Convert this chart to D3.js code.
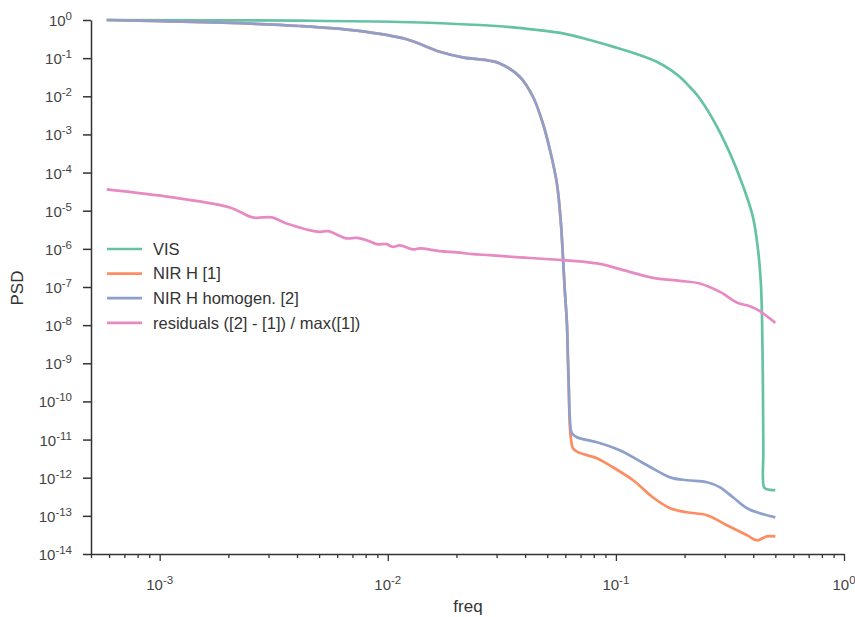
<!DOCTYPE html>
<html><head><meta charset="utf-8">
<script src="https://cdn.jsdelivr.net/npm/d3@7"></script>
<style>body{margin:0;background:#fff}svg{display:block;font-family:"Liberation Sans",Arial,Helvetica,sans-serif}</style>
</head><body><svg id="c" width="855" height="617"></svg>
<script>
// ---- data ----
const seriesNames = ["VIS", "NIR H [1]", "NIR H homogen. [2]", "residuals ([2] - [1]) / max([1])"];
const seriesColors = ["#66c2a5", "#fc8d62", "#8da0cb", "#e78ac3"];

const freqVIS = [5.86e-4, 4.11e-3, 0.0113, 0.0253, 0.0353, 0.0586, 0.0769, 0.097, 0.127, 0.151, 0.173, 0.191, 0.211, 0.227, 0.266, 0.316, 0.361, 0.399, 0.420, 0.432, 0.437, 0.441, 0.443, 0.446, 0.459, 0.5];
const psdVIS  = [1.0, 0.96, 0.887, 0.739, 0.644, 0.448, 0.299, 0.2, 0.121, 0.0805, 0.0503, 0.032, 0.0175, 0.0108, 0.00253, 3.24e-4, 4.42e-5, 6.8e-6, 9.25e-7, 1.26e-7, 1.62e-8, 3.0e-10, 5.25e-12, 5.6e-13, 5.0e-13, 4.7e-13];

const freqNIR = [5.86e-4, 1.89e-3, 4.11e-3, 7.31e-3, 0.0121, 0.0169, 0.0213, 0.0280, 0.0310, 0.0379, 0.0433, 0.0478, 0.0514, 0.0551, 0.0574, 0.0597, 0.0610, 0.0616, 0.0622, 0.0628, 0.0635, 0.0648, 0.0681, 0.0826, 0.097, 0.119, 0.145, 0.173, 0.205, 0.251, 0.307, 0.376, 0.415, 0.459, 0.5];
const psdNIR  = [1.0, 0.849, 0.696, 0.524, 0.312, 0.147, 0.105, 0.0855, 0.0728, 0.0326, 0.00973, 0.00199, 3.89e-4, 5.3e-5, 4.73e-6, 8.26e-8, 1.12e-8, 1.44e-9, 1.97e-10, 2.38e-11, 1.08e-11, 5.92e-12, 4.68e-12, 3.24e-12, 1.88e-12, 8.57e-13, 3.07e-13, 1.58e-13, 1.24e-13, 1.04e-13, 5.66e-14, 3.09e-14, 2.29e-14, 2.91e-14, 2.91e-14];

const freqHom = [5.86e-4, 1.89e-3, 4.11e-3, 7.31e-3, 0.0121, 0.0169, 0.0213, 0.0280, 0.0310, 0.0379, 0.0433, 0.0478, 0.0514, 0.0551, 0.0574, 0.0586, 0.0597, 0.0610, 0.0616, 0.0622, 0.0628, 0.0641, 0.0675, 0.0826, 0.104, 0.137, 0.173, 0.205, 0.251, 0.286, 0.326, 0.376, 0.428, 0.5];
const psdHom  = [1.0, 0.849, 0.696, 0.524, 0.312, 0.147, 0.105, 0.0855, 0.0728, 0.0326, 0.00973, 0.00199, 3.89e-4, 5.3e-5, 4.73e-6, 6.07e-7, 8.26e-8, 1.12e-8, 1.44e-9, 1.97e-10, 3.85e-11, 1.47e-11, 1.15e-11, 8.5e-12, 5.25e-12, 2.12e-12, 1.02e-12, 8.57e-13, 7.6e-13, 5.6e-13, 3.08e-13, 1.58e-13, 1.17e-13, 9.1e-14];

const freqRes = [5.86e-4, 1.14e-3, 2.03e-3, 2.56e-3, 3.10e-3, 3.60e-3, 5.03e-3, 5.46e-3, 6.61e-3, 7.31e-3, 8.09e-3, 8.95e-3, 9.90e-3, 0.0105, 0.0113, 0.0129, 0.0138, 0.0169, 0.0201, 0.0236, 0.0280, 0.0353, 0.0586, 0.0826, 0.115, 0.145, 0.191, 0.233, 0.286, 0.340, 0.387, 0.428, 0.5];
const psdRes  = [3.62e-5, 2.23e-5, 1.22e-5, 6.67e-6, 6.67e-6, 4.64e-6, 2.79e-6, 2.92e-6, 1.88e-6, 1.95e-6, 1.69e-6, 1.33e-6, 1.33e-6, 1.13e-6, 1.23e-6, 9.66e-7, 1.03e-6, 8.71e-7, 8.05e-7, 7.27e-7, 6.84e-7, 6.18e-7, 5.06e-7, 4.15e-7, 2.50e-7, 1.74e-7, 1.45e-7, 1.24e-7, 7.45e-8, 3.88e-8, 3.14e-8, 2.32e-8, 1.15e-8];

const xMajorTicks = [1e-3, 1e-2, 1e-1, 1];
const xTickExp = ["-3", "-2", "-1", "0"];
const yMajorTicks = [1, 1e-1, 1e-2, 1e-3, 1e-4, 1e-5, 1e-6, 1e-7, 1e-8, 1e-9, 1e-10, 1e-11, 1e-12, 1e-13, 1e-14];
const yTickExp = ["0","-1","-2","-3","-4","-5","-6","-7","-8","-9","-10","-11","-12","-13","-14"];
const xLabel = "freq", yLabel = "PSD";

// ---- drawing ----
const svg = d3.select("#c");
const x = d3.scaleLog().domain([5e-4, 1]).range([91, 844]);
const y = d3.scaleLog().domain([1e-14, 1]).range([554, 20]);
const axisColor = "#333", textColor = "#444";

const series = [
  {f: freqVIS, p: psdVIS},
  {f: freqNIR, p: psdNIR},
  {f: freqHom, p: psdHom},
  {f: freqRes, p: psdRes}
];

const line = d3.line().x(d => x(d[0])).y(d => y(d[1])).curve(d3.curveCatmullRom.alpha(0.5));
series.forEach((s, i) => {
  const pts = s.f.map((f, k) => [f, s.p[k]]);
  svg.append("path").attr("d", line(pts))
    .attr("fill", "none").attr("stroke", seriesColors[i]).attr("stroke-width", 2.7)
    .attr("stroke-linejoin", "round").attr("stroke-linecap", "butt");
});

// minor x ticks
const minorX = [];
for (let e = -4; e < 0; e++) for (let m = 2; m <= 9; m++) { const v = m * Math.pow(10, e); if (v >= 5e-4 && v < 1) minorX.push(v); }

const gx = svg.append("g").attr("transform", "translate(0,554)");
gx.call(d3.axisBottom(x).tickValues(minorX).tickSize(4).tickFormat("").tickSizeOuter(0));
const gx2 = svg.append("g").attr("transform", "translate(0,554)");
gx2.call(d3.axisBottom(x).tickValues(xMajorTicks).tickSize(7).tickFormat("").tickSizeOuter(0));
gx2.select(".domain").remove();
[gx, gx2].forEach(g => { g.selectAll("line").attr("stroke", axisColor).attr("stroke-width", 1.3); g.select(".domain").attr("stroke", axisColor).attr("stroke-width", 1.5); });

const gy = svg.append("g").attr("transform", "translate(91,0)");
gy.call(d3.axisLeft(y).tickValues(yMajorTicks).tickSize(8).tickFormat("").tickSizeOuter(0));
gy.selectAll("line").attr("stroke", axisColor).attr("stroke-width", 1.5);
gy.select(".domain").attr("stroke", axisColor).attr("stroke-width", 1.5);

// tick labels with superscripts
xMajorTicks.forEach((v, i) => {
  const t = svg.append("text").attr("x", x(v)).attr("y", 590).attr("text-anchor", "middle")
    .attr("fill", textColor).attr("font-size", 15);
  t.append("tspan").text("10");
  t.append("tspan").attr("font-size", 11.5).attr("dy", -6).text(xTickExp[i]);
});
yMajorTicks.forEach((v, i) => {
  const t = svg.append("text").attr("x", 72).attr("y", y(v) + 6).attr("text-anchor", "end")
    .attr("fill", textColor).attr("font-size", 15);
  t.append("tspan").text("10");
  t.append("tspan").attr("font-size", 11.5).attr("dy", -6).text(yTickExp[i]);
});

// axis labels
svg.append("text").attr("x", 468).attr("y", 612).attr("text-anchor", "middle").attr("fill", "#333").attr("font-size", 17).text(xLabel);
svg.append("text").attr("transform", "translate(23,288) rotate(-90)").attr("text-anchor", "middle").attr("fill", "#333").attr("font-size", 17).text(yLabel);

// legend
const lg = svg.append("g");
seriesNames.forEach((n, i) => {
  const yy = 249 + i * 24.6;
  lg.append("line").attr("x1", 107).attr("x2", 142).attr("y1", yy).attr("y2", yy).attr("stroke", seriesColors[i]).attr("stroke-width", 2.7);
  lg.append("text").attr("x", 153).attr("y", yy + 5.8).attr("fill", "#333").attr("font-size", 16.5).text(n);
});
</script></body></html>
